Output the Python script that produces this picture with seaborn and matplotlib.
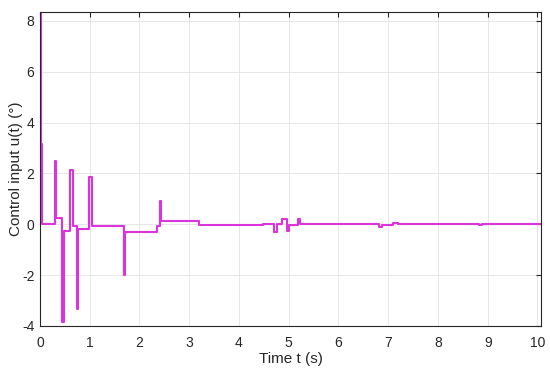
import matplotlib
matplotlib.use("Agg")
import matplotlib.pyplot as plt
import seaborn as sns
import pandas as pd

# breakpoints of the piecewise-constant control signal (steps-post)
tiempo = [0.00, 0.02, 0.035, 0.05, 0.31, 0.33, 0.45, 0.49, 0.60, 0.66,
          0.74, 0.77, 0.99, 1.05, 1.69, 1.71, 2.36, 2.41, 2.43, 3.20,
          4.49, 4.70, 4.76, 4.87, 4.97, 5.01, 5.19, 5.22, 6.82, 6.87,
          7.10, 7.20, 8.82, 8.88, 9.72, 9.76, 10.07]
control = [8.30, 3.15, 1.20, 0.03, 2.50, 0.25, -3.85, -0.25, 2.15, -0.05,
           -3.35, -0.20, 1.85, -0.07, -1.98, -0.30, -0.05, 0.90, 0.12, -0.04,
           0.00, -0.30, 0.00, 0.22, -0.27, -0.02, 0.20, 0.00, -0.12, -0.02,
           0.06, 0.00, -0.04, 0.00, 0.03, 0.00, 0.00]

x_ticks = [0, 1, 2, 3, 4, 5, 6, 7, 8, 9, 10]
y_ticks = [-4, -2, 0, 2, 4, 6, 8]

df = pd.DataFrame({"t": tiempo, "u": control})

sns.set_theme(style="whitegrid")
plt.rcParams["font.family"] = ["Liberation Sans", "DejaVu Sans"]

fig = plt.figure(figsize=(5.5, 3.76), dpi=100)
ax = fig.add_axes([0.0727, 0.133, 0.9109, 0.835])

sns.lineplot(data=df, x="t", y="u", estimator=None, sort=False,
             drawstyle="steps-post", color="#DD33DD", linewidth=1.5, ax=ax)

ax.set_xlim(0, 10.07)
ax.set_ylim(-4, 8.35)
ax.set_xticks(x_ticks)
ax.set_yticks(y_ticks)
ax.set_yticklabels(["-4", "-2", "0", "2", "4", "6", "8"])

ax.set_facecolor("white")
ax.grid(True, color="#E3E3E3", linewidth=0.6)
for s in ax.spines.values():
    s.set_visible(True)
    s.set_color("#262626")
    s.set_linewidth(0.8)
ax.tick_params(direction="in", length=3.5, width=0.8, color="#262626",
               top=True, right=True, labelsize=10, labelcolor="#262626")
ax.tick_params(axis="x", pad=7)
ax.tick_params(axis="y", pad=4)

ax.set_xlabel("Time t (s)", fontsize=11, color="#262626", labelpad=1.5)
ax.set_ylabel("Control input u(t) (°)", fontsize=11, color="#262626", labelpad=-1)

fig.savefig("out.png", dpi=100)
